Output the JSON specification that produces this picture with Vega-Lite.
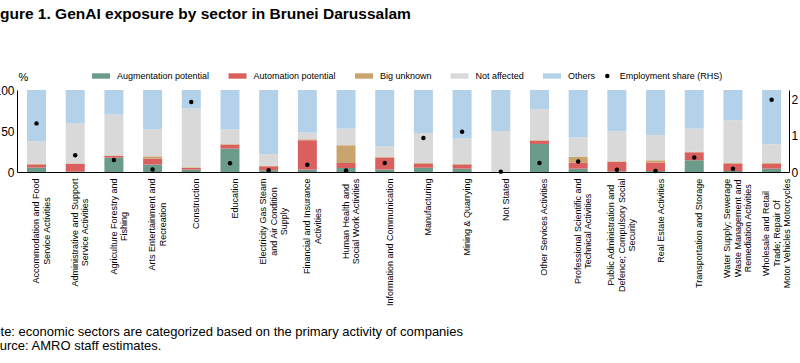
{
  "$schema": "https://vega.github.io/schema/vega-lite/v6.json",
  "width": 772,
  "height": 82,
  "autosize": {"type": "none"},
  "padding": {"left": 17, "top": 90, "right": 11, "bottom": 191},
  "background": "white",
  "title": {
    "text": "Figure 1. GenAI exposure by sector in Brunei Darussalam",
    "anchor": "start",
    "frame": "group",
    "orient": "top",
    "font": "Liberation Sans",
    "fontSize": 15.5,
    "fontWeight": "bold",
    "color": "black",
    "baseline": "alphabetic",
    "offset": 0,
    "dx": -30.8,
    "dy": -33
  },
  "config": {
    "font": "Liberation Sans",
    "view": {"stroke": null},
    "axis": {"grid": false, "labelFont": "Liberation Sans", "titleFont": "Liberation Sans", "labelColor": "black", "titleColor": "black", "domainColor": "black", "tickColor": "black"},
    "legend": {"labelFont": "Liberation Sans", "labelColor": "black"}
  },
  "datasets": {
    "bars": [
      {"sector": "Accommodation and Food\nService Activities", "series": "Augmentation potential", "value": 5.4},
      {"sector": "Accommodation and Food\nService Activities", "series": "Automation potential", "value": 3.6},
      {"sector": "Accommodation and Food\nService Activities", "series": "Big unknown", "value": 1.2},
      {"sector": "Accommodation and Food\nService Activities", "series": "Not affected", "value": 27.2},
      {"sector": "Accommodation and Food\nService Activities", "series": "Others", "value": 62.6},
      {"sector": "Administrative and Support\nService Activities", "series": "Augmentation potential", "value": 0.5},
      {"sector": "Administrative and Support\nService Activities", "series": "Automation potential", "value": 9.5},
      {"sector": "Administrative and Support\nService Activities", "series": "Big unknown", "value": 0.5},
      {"sector": "Administrative and Support\nService Activities", "series": "Not affected", "value": 49.3},
      {"sector": "Administrative and Support\nService Activities", "series": "Others", "value": 40.2},
      {"sector": "Agriculture Forestry and\nFishing", "series": "Augmentation potential", "value": 17.5},
      {"sector": "Agriculture Forestry and\nFishing", "series": "Automation potential", "value": 2.0},
      {"sector": "Agriculture Forestry and\nFishing", "series": "Big unknown", "value": 0.7},
      {"sector": "Agriculture Forestry and\nFishing", "series": "Not affected", "value": 49.8},
      {"sector": "Agriculture Forestry and\nFishing", "series": "Others", "value": 30.0},
      {"sector": "Arts Entertainment and\nRecreation", "series": "Augmentation potential", "value": 9.0},
      {"sector": "Arts Entertainment and\nRecreation", "series": "Automation potential", "value": 7.3},
      {"sector": "Arts Entertainment and\nRecreation", "series": "Big unknown", "value": 2.8},
      {"sector": "Arts Entertainment and\nRecreation", "series": "Not affected", "value": 32.6},
      {"sector": "Arts Entertainment and\nRecreation", "series": "Others", "value": 48.3},
      {"sector": "Construction", "series": "Augmentation potential", "value": 2.9},
      {"sector": "Construction", "series": "Automation potential", "value": 2.0},
      {"sector": "Construction", "series": "Big unknown", "value": 0.8},
      {"sector": "Construction", "series": "Not affected", "value": 72.0},
      {"sector": "Construction", "series": "Others", "value": 22.3},
      {"sector": "Education", "series": "Augmentation potential", "value": 28.5},
      {"sector": "Education", "series": "Automation potential", "value": 4.9},
      {"sector": "Education", "series": "Big unknown", "value": 0.6},
      {"sector": "Education", "series": "Not affected", "value": 17.7},
      {"sector": "Education", "series": "Others", "value": 48.3},
      {"sector": "Electricity Gas Steam\nand Air Condition\nSupply", "series": "Augmentation potential", "value": 2.0},
      {"sector": "Electricity Gas Steam\nand Air Condition\nSupply", "series": "Automation potential", "value": 5.0},
      {"sector": "Electricity Gas Steam\nand Air Condition\nSupply", "series": "Big unknown", "value": 0.7},
      {"sector": "Electricity Gas Steam\nand Air Condition\nSupply", "series": "Not affected", "value": 13.9},
      {"sector": "Electricity Gas Steam\nand Air Condition\nSupply", "series": "Others", "value": 78.4},
      {"sector": "Financial and Insurance\nActivities", "series": "Augmentation potential", "value": 2.9},
      {"sector": "Financial and Insurance\nActivities", "series": "Automation potential", "value": 35.8},
      {"sector": "Financial and Insurance\nActivities", "series": "Big unknown", "value": 1.2},
      {"sector": "Financial and Insurance\nActivities", "series": "Not affected", "value": 8.1},
      {"sector": "Financial and Insurance\nActivities", "series": "Others", "value": 52.0},
      {"sector": "Human Health and\nSocial Work Activities", "series": "Augmentation potential", "value": 4.9},
      {"sector": "Human Health and\nSocial Work Activities", "series": "Automation potential", "value": 6.1},
      {"sector": "Human Health and\nSocial Work Activities", "series": "Big unknown", "value": 21.6},
      {"sector": "Human Health and\nSocial Work Activities", "series": "Not affected", "value": 20.3},
      {"sector": "Human Health and\nSocial Work Activities", "series": "Others", "value": 47.1},
      {"sector": "Information and Communication", "series": "Augmentation potential", "value": 2.9},
      {"sector": "Information and Communication", "series": "Automation potential", "value": 14.6},
      {"sector": "Information and Communication", "series": "Big unknown", "value": 1.2},
      {"sector": "Information and Communication", "series": "Not affected", "value": 12.6},
      {"sector": "Information and Communication", "series": "Others", "value": 68.7},
      {"sector": "Manufacturing", "series": "Augmentation potential", "value": 5.3},
      {"sector": "Manufacturing", "series": "Automation potential", "value": 4.9},
      {"sector": "Manufacturing", "series": "Big unknown", "value": 0.8},
      {"sector": "Manufacturing", "series": "Not affected", "value": 36.6},
      {"sector": "Manufacturing", "series": "Others", "value": 52.4},
      {"sector": "Mining & Quarrying", "series": "Augmentation potential", "value": 4.1},
      {"sector": "Mining & Quarrying", "series": "Automation potential", "value": 4.9},
      {"sector": "Mining & Quarrying", "series": "Big unknown", "value": 0.8},
      {"sector": "Mining & Quarrying", "series": "Not affected", "value": 30.9},
      {"sector": "Mining & Quarrying", "series": "Others", "value": 59.3},
      {"sector": "Not Stated", "series": "Augmentation potential", "value": 0.2},
      {"sector": "Not Stated", "series": "Automation potential", "value": 0.2},
      {"sector": "Not Stated", "series": "Big unknown", "value": 0.0},
      {"sector": "Not Stated", "series": "Not affected", "value": 49.6},
      {"sector": "Not Stated", "series": "Others", "value": 50.0},
      {"sector": "Other Services Activities", "series": "Augmentation potential", "value": 34.2},
      {"sector": "Other Services Activities", "series": "Automation potential", "value": 4.0},
      {"sector": "Other Services Activities", "series": "Big unknown", "value": 0.6},
      {"sector": "Other Services Activities", "series": "Not affected", "value": 37.7},
      {"sector": "Other Services Activities", "series": "Others", "value": 23.5},
      {"sector": "Professional Scientific and\nTechnical Activities", "series": "Augmentation potential", "value": 4.1},
      {"sector": "Professional Scientific and\nTechnical Activities", "series": "Automation potential", "value": 7.5},
      {"sector": "Professional Scientific and\nTechnical Activities", "series": "Big unknown", "value": 6.7},
      {"sector": "Professional Scientific and\nTechnical Activities", "series": "Not affected", "value": 24.0},
      {"sector": "Professional Scientific and\nTechnical Activities", "series": "Others", "value": 57.7},
      {"sector": "Public Administration and\nDefence; Compulsory Social\nSecurity", "series": "Augmentation potential", "value": 0.8},
      {"sector": "Public Administration and\nDefence; Compulsory Social\nSecurity", "series": "Automation potential", "value": 11.4},
      {"sector": "Public Administration and\nDefence; Compulsory Social\nSecurity", "series": "Big unknown", "value": 0.8},
      {"sector": "Public Administration and\nDefence; Compulsory Social\nSecurity", "series": "Not affected", "value": 36.6},
      {"sector": "Public Administration and\nDefence; Compulsory Social\nSecurity", "series": "Others", "value": 50.4},
      {"sector": "Real Estate Activities", "series": "Augmentation potential", "value": 1.2},
      {"sector": "Real Estate Activities", "series": "Automation potential", "value": 10.4},
      {"sector": "Real Estate Activities", "series": "Big unknown", "value": 2.7},
      {"sector": "Real Estate Activities", "series": "Not affected", "value": 30.5},
      {"sector": "Real Estate Activities", "series": "Others", "value": 55.2},
      {"sector": "Transportation and Storage", "series": "Augmentation potential", "value": 14.3},
      {"sector": "Transportation and Storage", "series": "Automation potential", "value": 9.7},
      {"sector": "Transportation and Storage", "series": "Big unknown", "value": 0.6},
      {"sector": "Transportation and Storage", "series": "Not affected", "value": 28.3},
      {"sector": "Transportation and Storage", "series": "Others", "value": 47.1},
      {"sector": "Water Supply; Sewerage\nWaste Management and\nRemediation Activities", "series": "Augmentation potential", "value": 1.2},
      {"sector": "Water Supply; Sewerage\nWaste Management and\nRemediation Activities", "series": "Automation potential", "value": 9.0},
      {"sector": "Water Supply; Sewerage\nWaste Management and\nRemediation Activities", "series": "Big unknown", "value": 0.8},
      {"sector": "Water Supply; Sewerage\nWaste Management and\nRemediation Activities", "series": "Not affected", "value": 52.0},
      {"sector": "Water Supply; Sewerage\nWaste Management and\nRemediation Activities", "series": "Others", "value": 37.0},
      {"sector": "Wholesale and Retail\nTrade; Repair Of\nMotor Vehicles Motorcycles", "series": "Augmentation potential", "value": 4.1},
      {"sector": "Wholesale and Retail\nTrade; Repair Of\nMotor Vehicles Motorcycles", "series": "Automation potential", "value": 6.1},
      {"sector": "Wholesale and Retail\nTrade; Repair Of\nMotor Vehicles Motorcycles", "series": "Big unknown", "value": 0.8},
      {"sector": "Wholesale and Retail\nTrade; Repair Of\nMotor Vehicles Motorcycles", "series": "Not affected", "value": 22.8},
      {"sector": "Wholesale and Retail\nTrade; Repair Of\nMotor Vehicles Motorcycles", "series": "Others", "value": 66.2}
    ],
    "dots": [
      {"sector": "Accommodation and Food\nService Activities", "series": "Employment share (RHS)", "share": 1.34},
      {"sector": "Administrative and Support\nService Activities", "series": "Employment share (RHS)", "share": 0.46},
      {"sector": "Agriculture Forestry and\nFishing", "series": "Employment share (RHS)", "share": 0.33},
      {"sector": "Arts Entertainment and\nRecreation", "series": "Employment share (RHS)", "share": 0.07},
      {"sector": "Construction", "series": "Employment share (RHS)", "share": 1.93},
      {"sector": "Education", "series": "Employment share (RHS)", "share": 0.24},
      {"sector": "Electricity Gas Steam\nand Air Condition\nSupply", "series": "Employment share (RHS)", "share": 0.05},
      {"sector": "Financial and Insurance\nActivities", "series": "Employment share (RHS)", "share": 0.2},
      {"sector": "Human Health and\nSocial Work Activities", "series": "Employment share (RHS)", "share": 0.04},
      {"sector": "Information and Communication", "series": "Employment share (RHS)", "share": 0.25},
      {"sector": "Manufacturing", "series": "Employment share (RHS)", "share": 0.94},
      {"sector": "Mining & Quarrying", "series": "Employment share (RHS)", "share": 1.11},
      {"sector": "Not Stated", "series": "Employment share (RHS)", "share": 0.01},
      {"sector": "Other Services Activities", "series": "Employment share (RHS)", "share": 0.25},
      {"sector": "Professional Scientific and\nTechnical Activities", "series": "Employment share (RHS)", "share": 0.29},
      {"sector": "Public Administration and\nDefence; Compulsory Social\nSecurity", "series": "Employment share (RHS)", "share": 0.06},
      {"sector": "Real Estate Activities", "series": "Employment share (RHS)", "share": 0.03},
      {"sector": "Transportation and Storage", "series": "Employment share (RHS)", "share": 0.4},
      {"sector": "Water Supply; Sewerage\nWaste Management and\nRemediation Activities", "series": "Employment share (RHS)", "share": 0.09},
      {"sector": "Wholesale and Retail\nTrade; Repair Of\nMotor Vehicles Motorcycles", "series": "Employment share (RHS)", "share": 1.99}
    ]
  },
  "encoding": {
    "x": {
      "field": "sector",
      "type": "nominal",
      "sort": "ascending",
      "scale": {"paddingInner": 0.509, "paddingOuter": 0.2315, "align": 0.56},
      "axis": {
        "labelExpr": "split(datum.value, '\\n')",
        "labelAngle": -90,
        "labelAlign": "center",
        "labelBaseline": "middle",
        "labelOffset": {
          "condition": [
            {"test": "length(split(datum.value, '\\n')) == 2", "value": -0.25},
            {"test": "length(split(datum.value, '\\n')) == 3", "value": -5.5}
          ],
          "value": 5
        },
        "labelPadding": {
          "condition": [
            {"test": "indexof(datum.value, 'Accommodation') == 0", "value": 58.5},
            {"test": "indexof(datum.value, 'Administrative') == 0", "value": 60.0},
            {"test": "indexof(datum.value, 'Agriculture') == 0", "value": 54.0},
            {"test": "indexof(datum.value, 'Arts') == 0", "value": 52.0},
            {"test": "indexof(datum.value, 'Construction') == 0", "value": 31.3},
            {"test": "indexof(datum.value, 'Education') == 0", "value": 26.0},
            {"test": "indexof(datum.value, 'Electricity') == 0", "value": 49.0},
            {"test": "indexof(datum.value, 'Financial') == 0", "value": 53.8},
            {"test": "indexof(datum.value, 'Human') == 0", "value": 49.0},
            {"test": "indexof(datum.value, 'Information') == 0", "value": 69.8},
            {"test": "indexof(datum.value, 'Manufacturing') == 0", "value": 34.5},
            {"test": "indexof(datum.value, 'Mining') == 0", "value": 44.5},
            {"test": "indexof(datum.value, 'Not Stated') == 0", "value": 27.3},
            {"test": "indexof(datum.value, 'Other Services') == 0", "value": 54.8},
            {"test": "indexof(datum.value, 'Professional') == 0", "value": 58.8},
            {"test": "indexof(datum.value, 'Public') == 0", "value": 62.8},
            {"test": "indexof(datum.value, 'Real Estate') == 0", "value": 48.3},
            {"test": "indexof(datum.value, 'Transportation') == 0", "value": 60.8},
            {"test": "indexof(datum.value, 'Water') == 0", "value": 55.8},
            {"test": "indexof(datum.value, 'Wholesale') == 0", "value": 61.0}
          ],
          "value": 6
        },
        "labelLineHeight": 10.5,
        "labelFontSize": 9,
        "labelLimit": 0,
        "ticks": false,
        "domainWidth": 1,
        "title": ["Note: economic sectors are categorized based on the primary activity of companies", "Source: AMRO staff estimates."],
        "titleFontSize": 13,
        "titleFontWeight": "normal",
        "titleAlign": "left",
        "titleAnchor": "start",
        "titleBaseline": "alphabetic",
        "titleX": -33.6,
        "titleY": 163,
        "titleLineHeight": 14
      }
    }
  },
  "layer": [
    {
      "data": {"name": "bars"},
      "mark": {"type": "bar"},
      "encoding": {
        "y": {
          "field": "value",
          "type": "quantitative",
          "stack": "zero",
          "scale": {"domain": [0, 100], "nice": false},
          "axis": {
            "orient": "left",
            "values": [0, 50, 100],
            "labelFontSize": 12,
            "ticks": false,
            "labelPadding": 3,
            "domainWidth": 1,
            "title": "%",
            "titleAngle": 0,
            "titleAlign": "left",
            "titleBaseline": "alphabetic",
            "titleX": 1,
            "titleY": -10,
            "titleFontSize": 11,
            "titleFontWeight": "normal"
          }
        },
        "order": {"field": "series", "sort": "ascending"},
        "color": {
          "field": "series",
          "type": "nominal",
          "scale": {
            "domain": ["Augmentation potential", "Automation potential", "Big unknown", "Not affected", "Others"],
            "range": ["#6b9b8a", "#d9605e", "#c9a46d", "#d9d9d9", "#b3d1e8"]
          },
          "legend": {
            "title": null,
            "orient": "none",
            "legendX": 75,
            "legendY": -23,
            "direction": "horizontal",
            "columns": 5,
            "symbolType": "M-1,-0.3H1V0.3H-1Z",
            "symbolSize": 324,
            "symbolStrokeWidth": 0,
            "symbolOpacity": 1,
            "labelFontSize": 9,
            "labelOffset": 7,
            "columnPadding": 18.5,
            "padding": 0
          }
        }
      }
    },
    {
      "data": {"name": "dots"},
      "mark": {"type": "point", "filled": true, "color": "black", "size": 20, "opacity": 1},
      "encoding": {
        "y": {
          "field": "share",
          "type": "quantitative",
          "scale": {"domain": [0, 2.26], "nice": false},
          "axis": {
            "orient": "right",
            "values": [0, 1, 2],
            "labelFontSize": 12,
            "ticks": false,
            "labelPadding": 2,
            "domainWidth": 1,
            "title": null
          }
        },
        "shape": {
          "field": "series",
          "type": "nominal",
          "scale": {"domain": ["Employment share (RHS)"], "range": ["circle"]},
          "legend": {
            "title": null,
            "orient": "none",
            "legendX": 585.8,
            "legendY": -18.5,
            "symbolSize": 20,
            "symbolFillColor": "black",
            "symbolStrokeColor": "black",
            "symbolOpacity": 1,
            "labelFontSize": 9,
            "labelOffset": 8,
            "padding": 0
          }
        }
      }
    }
  ],
  "resolve": {"scale": {"y": "independent"}}
}
